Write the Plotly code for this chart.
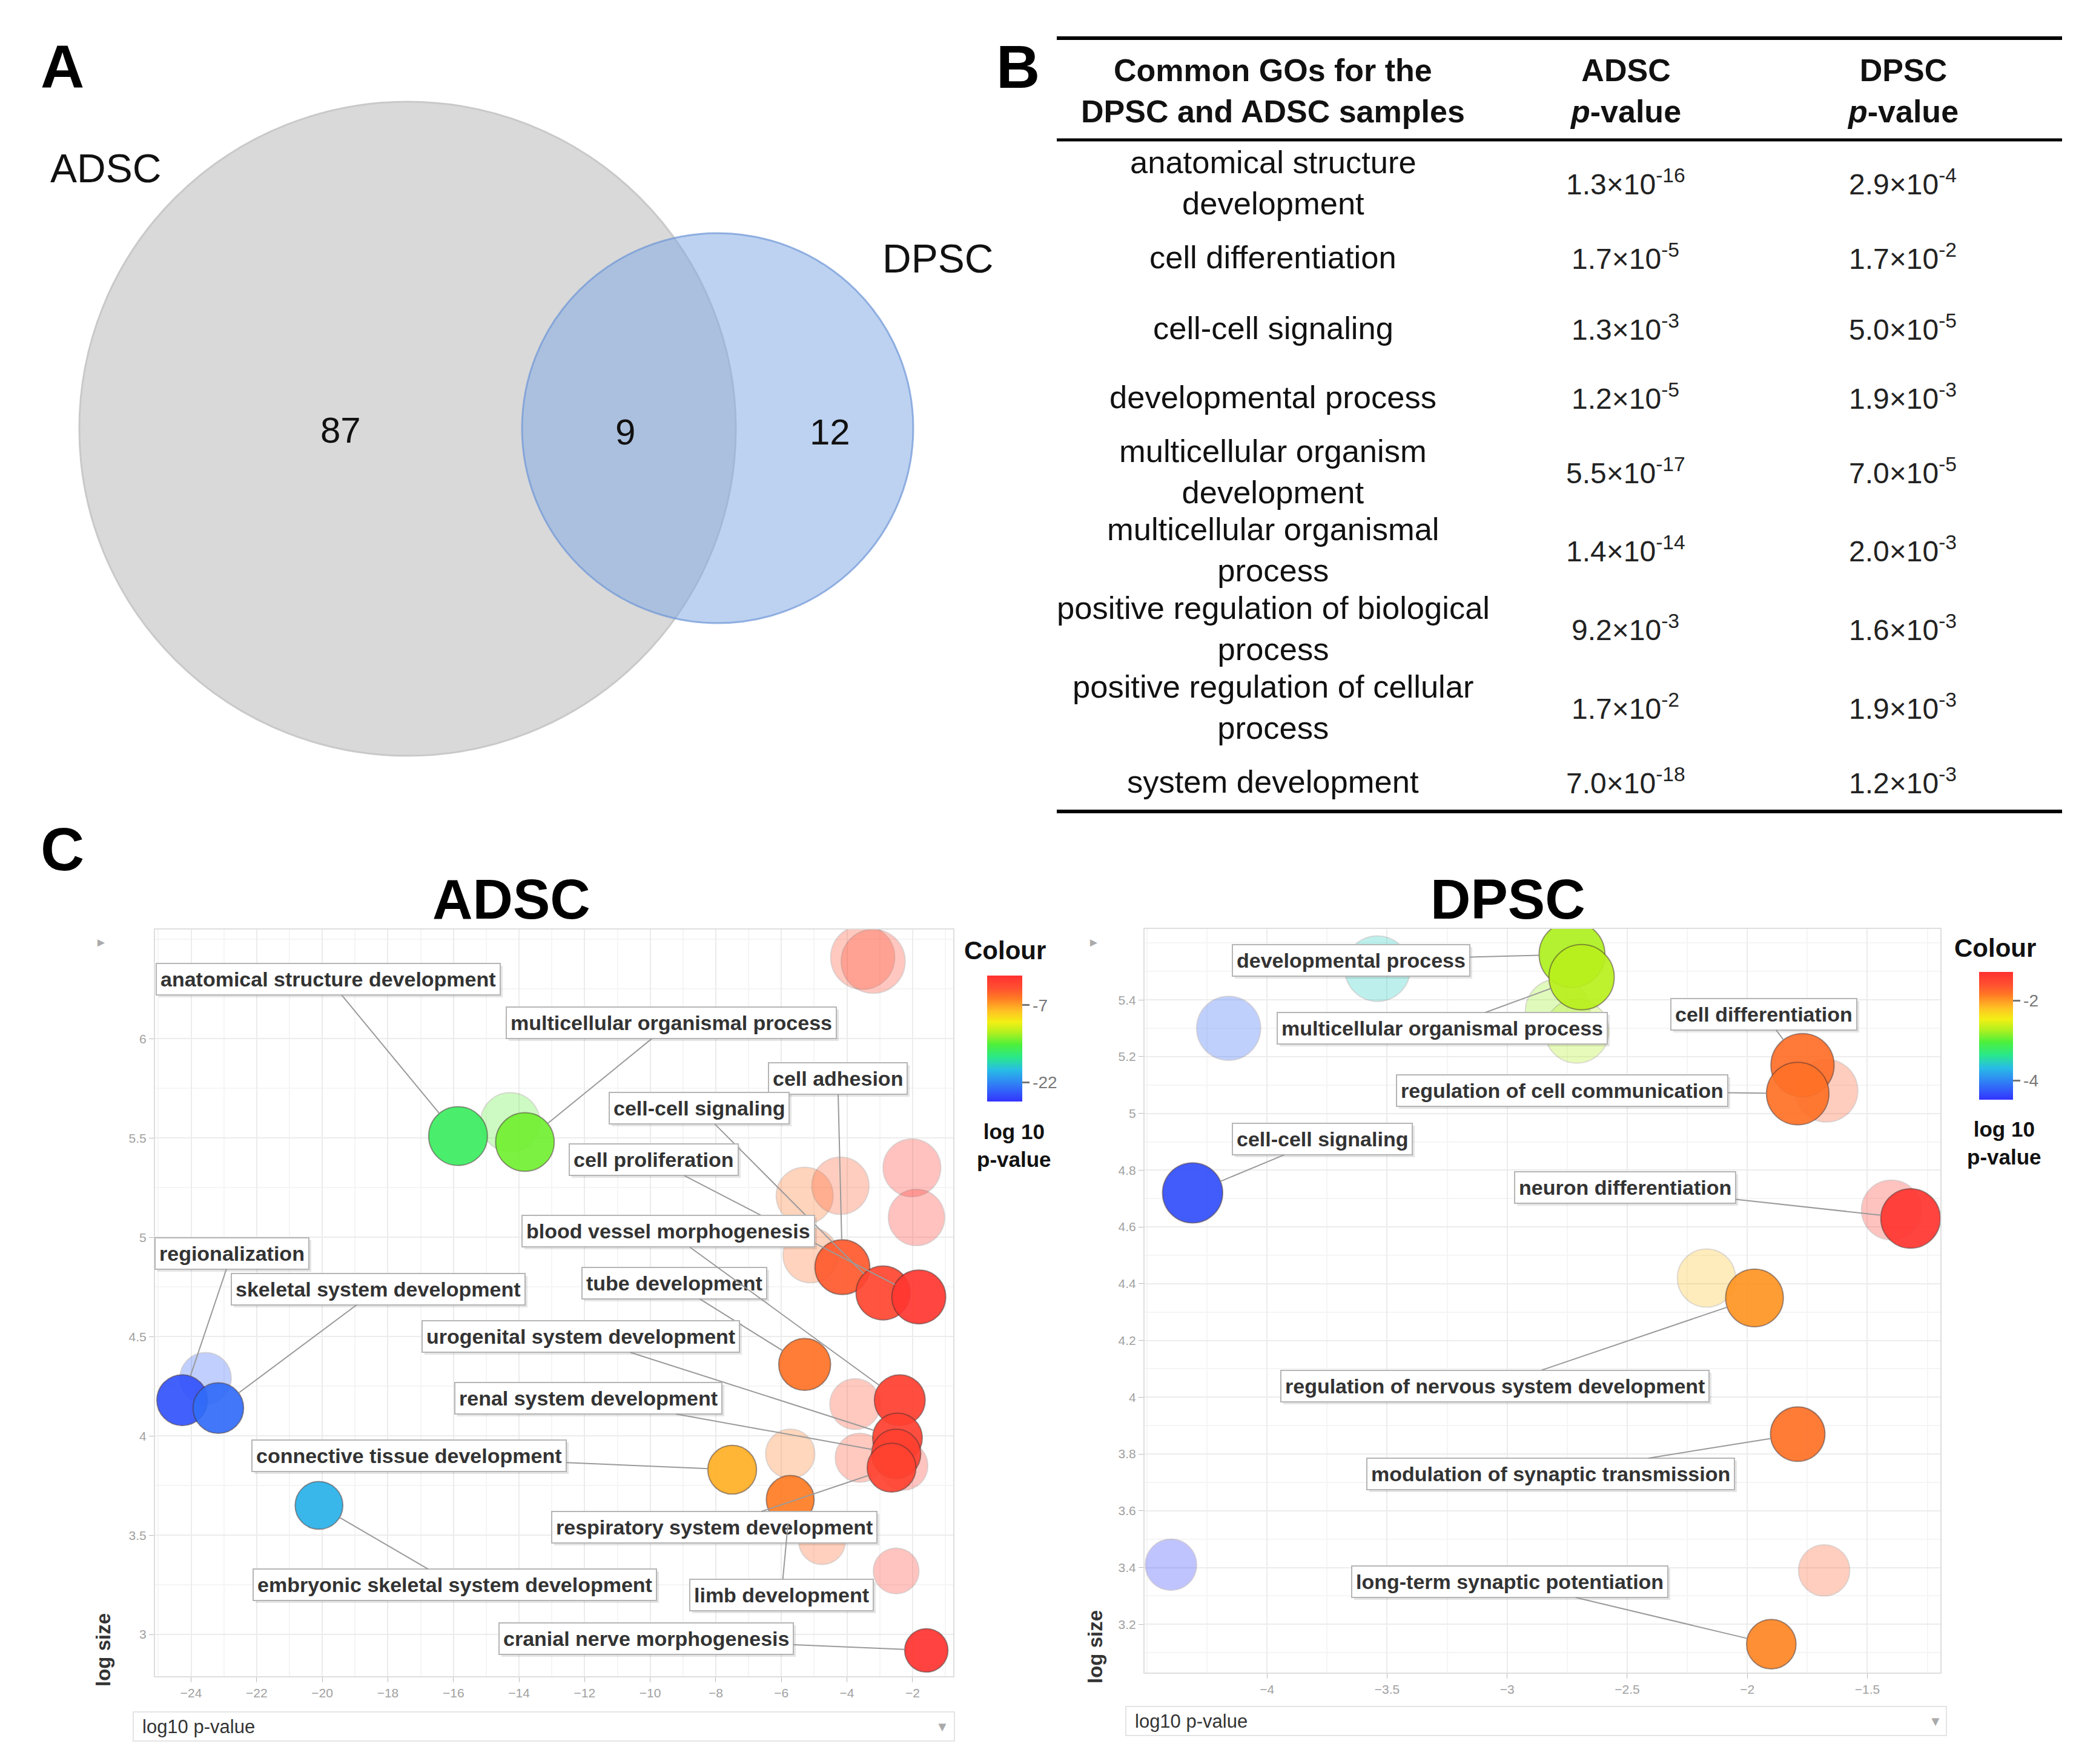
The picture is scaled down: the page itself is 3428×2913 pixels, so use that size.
import plotly.graph_objects as go

W, H = 3428, 2913
def px(x):
    return x / W
def py(y):
    return 1 - y / H

FONT = "Liberation Sans, Arial, sans-serif"

# ---------------- Panel A: Venn counts ----------------
venn_names = ["ADSC", "DPSC"]
venn_only_adsc = 87
venn_common = 9
venn_only_dpsc = 12

# ---------------- Panel B: table ----------------
go_terms = [
    "anatomical structure<br>development",
    "cell differentiation",
    "cell-cell signaling",
    "developmental process",
    "multicellular organism<br>development",
    "multicellular organismal<br>process",
    "positive regulation of biological<br>process",
    "positive regulation of cellular<br>process",
    "system development",
]
adsc_mant = ["1.3", "1.7", "1.3", "1.2", "5.5", "1.4", "9.2", "1.7", "7.0"]
adsc_exp = [-16, -5, -3, -5, -17, -14, -3, -2, -18]
dpsc_mant = ["2.9", "1.7", "5.0", "1.9", "7.0", "2.0", "1.6", "1.9", "1.2"]
dpsc_exp = [-4, -2, -5, -3, -5, -3, -3, -3, -3]

# ---------------- Panel C: REVIGO scatter data ----------------
adsc_x = [-3.52, -3.20, -14.27, -15.86, -13.82, -5.29, -4.20, -2.02, -1.88, -5.11,
          -4.14, -2.90, -1.81, -23.56, -24.27, -23.17, -5.29, -3.75, -2.39, -2.46,
          -2.50, -2.64, -3.61, -2.28, -5.73, -7.50, -5.73, -4.76, -20.10, -2.50, -1.58]
adsc_y = [6.41, 6.39, 5.58, 5.51, 5.48, 5.21, 5.26, 5.35, 5.10, 4.91,
          4.85, 4.72, 4.70, 4.29, 4.18, 4.14, 4.36, 4.16, 4.18, 3.99,
          3.91, 3.84, 3.89, 3.85, 3.91, 3.83, 3.68, 3.47, 3.65, 3.32, 2.92]
adsc_solid = [0, 0, 0, 1, 1, 0, 0, 0, 0, 0,
              1, 1, 1, 0, 1, 1, 1, 0, 1, 1,
              1, 1, 0, 0, 0, 1, 1, 0, 1, 0, 1]
adsc_label = ["", "", "", "anatomical structure development", "multicellular organismal process",
              "", "", "", "", "",
              "cell adhesion", "cell-cell signaling", "cell proliferation", "", "regionalization",
              "skeletal system development", "tube development", "", "blood vessel morphogenesis",
              "urogenital system development",
              "renal system development", "respiratory system development", "", "", "",
              "connective tissue development", "limb development", "", "embryonic skeletal system development",
              "", "cranial nerve morphogenesis"]

dpsc_x = [-3.54, -2.73, -2.69, -2.79, -2.71, -4.16, -1.77, -1.67, -1.79, -4.31,
          -1.40, -1.32, -2.17, -1.97, -1.79, -4.40, -1.68, -1.90]
dpsc_y = [5.51, 5.56, 5.48, 5.36, 5.29, 5.30, 5.17, 5.08, 5.07, 4.72,
          4.66, 4.63, 4.42, 4.35, 3.87, 3.41, 3.39, 3.13]
dpsc_solid = [0, 1, 1, 0, 0, 0, 1, 0, 1, 1,
              0, 1, 0, 1, 1, 0, 0, 1]
dpsc_label = ["", "developmental process", "multicellular organismal process", "", "", "",
              "cell differentiation", "", "regulation of cell communication", "cell-cell signaling",
              "", "neuron differentiation", "", "regulation of nervous system development",
              "modulation of synaptic transmission", "", "", "long-term synaptic potentiation"]

adsc_xticks = [-24, -22, -20, -18, -16, -14, -12, -10, -8, -6, -4, -2]
adsc_yticks = [3, 3.5, 4, 4.5, 5, 5.5, 6]
dpsc_xticks = [-4, -3.5, -3, -2.5, -2, -1.5]
dpsc_yticks = [3.2, 3.4, 3.6, 3.8, 4, 4.2, 4.4, 4.6, 4.8, 5, 5.2, 5.4]
adsc_cb_ticks = [-7, -22]
dpsc_cb_ticks = [-2, -4]

# label box placement (layout, in data units)
adsc_label_pos = {
    "anatomical structure development": (-19.81, 6.30),
    "multicellular organismal process": (-9.36, 6.08),
    "cell adhesion": (-4.28, 5.80),
    "cell-cell signaling": (-8.51, 5.65),
    "cell proliferation": (-9.89, 5.39),
    "blood vessel morphogenesis": (-9.45, 5.03),
    "regionalization": (-22.76, 4.92),
    "skeletal system development": (-18.30, 4.74),
    "tube development": (-9.27, 4.77),
    "urogenital system development": (-12.11, 4.50),
    "renal system development": (-11.88, 4.19),
    "connective tissue development": (-17.36, 3.90),
    "respiratory system development": (-8.04, 3.54),
    "embryonic skeletal system development": (-15.95, 3.25),
    "limb development": (-6.0, 3.20),
    "cranial nerve morphogenesis": (-10.12, 2.98),
}
dpsc_label_pos = {
    "developmental process": (-3.65, 5.54),
    "multicellular organismal process": (-3.27, 5.30),
    "cell differentiation": (-1.93, 5.35),
    "regulation of cell communication": (-2.77, 5.08),
    "cell-cell signaling": (-3.77, 4.91),
    "neuron differentiation": (-2.51, 4.74),
    "regulation of nervous system development": (-3.05, 4.04),
    "modulation of synaptic transmission": (-2.82, 3.73),
    "long-term synaptic potentiation": (-2.99, 3.35),
}

colorscale = [
    [0.00, "#3333ff"], [0.14, "#3080f5"], [0.25, "#28bce6"], [0.35, "#2ae88a"],
    [0.45, "#4cf03c"], [0.55, "#b4f01e"], [0.63, "#f2f014"], [0.72, "#ffc024"],
    [0.82, "#ff7a24"], [0.90, "#ff5030"], [1.00, "#ff3030"],
]

def adsc_size(v):
    return 43 + 9.8 * v
def dpsc_size(v):
    return 47 + 11.1 * v

fig = go.Figure()

def add_bubbles(xs, ys, solid, sizefn, xa, ya, cax):
    for flag, op in ((0, 0.3), (1, 0.92)):
        idx = [i for i in range(len(xs)) if solid[i] == flag]
        fig.add_trace(go.Scatter(
            x=[xs[i] for i in idx], y=[ys[i] for i in idx], mode="markers",
            xaxis=xa, yaxis=ya, hoverinfo="skip", showlegend=False,
            marker=dict(size=[sizefn(ys[i]) for i in idx], color=[xs[i] for i in idx],
                        coloraxis=cax, opacity=op,
                        line=dict(color="rgba(70,50,50,0.55)", width=2)),
        ))

add_bubbles(adsc_x, adsc_y, adsc_solid, adsc_size, "x", "y", "coloraxis")
add_bubbles(dpsc_x, dpsc_y, dpsc_solid, dpsc_size, "x2", "y2", "coloraxis2")

annotations = []
shapes = []

def label_annots(xs, ys, labels, pos, sizefn, xr, yr):
    # soft drop shadows first
    for i, lab in enumerate(labels):
        if not lab:
            continue
        ax, ay = pos[lab]
        annotations.append(dict(
            x=ax, y=ay, xref=xr, yref=yr, showarrow=False, xshift=4, yshift=-4,
            text="<b>%s</b>" % lab, bgcolor="rgba(0,0,0,0.10)",
            bordercolor="rgba(0,0,0,0)", borderwidth=2, borderpad=6,
            font=dict(family=FONT, size=34, color="rgba(0,0,0,0)"),
        ))
    for i, lab in enumerate(labels):
        if not lab:
            continue
        ax, ay = pos[lab]
        annotations.append(dict(
            x=xs[i], y=ys[i], xref=xr, yref=yr, ax=ax, ay=ay, axref=xr, ayref=yr,
            text="<b>%s</b>" % lab, showarrow=True, arrowhead=0, arrowwidth=2,
            arrowcolor="#9a9a9a", standoff=sizefn(ys[i]) / 2,
            bgcolor="white", bordercolor="#b5b5b5", borderwidth=2, borderpad=6,
            font=dict(family=FONT, size=34, color="#333333"),
        ))

label_annots(adsc_x, adsc_y, adsc_label, adsc_label_pos, adsc_size, "x", "y")
label_annots(dpsc_x, dpsc_y, dpsc_label, dpsc_label_pos, dpsc_size, "x2", "y2")

def txt(x, y, text, size, bold=False, color="#111111", xanchor="center", angle=0):
    annotations.append(dict(
        x=px(x), y=py(y), xref="paper", yref="paper", showarrow=False,
        text=("<b>%s</b>" % text) if bold else text, xanchor=xanchor, yanchor="middle",
        textangle=angle, font=dict(family=FONT, size=size, color=color),
    ))

# panel letters
txt(103, 110, "A", 100, True, "#000")
txt(1681, 110, "B", 100, True, "#000")
txt(103, 1402, "C", 100, True, "#000")

# ---- Venn ----
shapes.append(dict(type="circle", xref="paper", yref="paper",
                   x0=px(673 - 542), x1=px(673 + 542), y0=py(708 + 540), y1=py(708 - 540),
                   fillcolor="#d9d9d9", line=dict(color="#c9c9c9", width=3), layer="below"))
shapes.append(dict(type="circle", xref="paper", yref="paper",
                   x0=px(1185 - 323), x1=px(1185 + 323), y0=py(707 + 322), y1=py(707 - 322),
                   fillcolor="rgba(128,168,226,0.52)", line=dict(color="rgba(110,150,215,0.7)", width=3),
                   layer="below"))
txt(174, 278, venn_names[0], 66)
txt(1548, 427, venn_names[1], 66)
txt(562, 710, str(venn_only_adsc), 60)
txt(1032, 713, str(venn_common), 60)
txt(1370, 713, str(venn_only_dpsc), 60)

# ---- Table ----
tx0, tx1 = 1745, 3405
for yy, wdt in ((63, 6), (231, 5), (1340, 6)):
    shapes.append(dict(type="line", xref="paper", yref="paper", x0=px(tx0), x1=px(tx1),
                       y0=py(yy), y1=py(yy), line=dict(color="#000", width=wdt)))
col_go, col_a, col_d = 2102, 2684, 3142
txt(col_go, 150, "Common GOs for the<br>DPSC and ADSC samples", 52, True, "#111")
txt(col_a, 150, "ADSC<br><i>p</i>-value", 52, True, "#111")
txt(col_d, 150, "DPSC<br><i>p</i>-value", 52, True, "#111")
row_y = [301, 424, 541, 655, 778, 907, 1037, 1167, 1290]
for i, term in enumerate(go_terms):
    txt(col_go, row_y[i], term, 52.5, False, "#111")
    txt(col_a, row_y[i], "%s×10<sup>%d</sup>" % (adsc_mant[i], adsc_exp[i]), 48, False, "#222")
    txt(col_d, row_y[i], "%s×10<sup>%d</sup>" % (dpsc_mant[i], dpsc_exp[i]), 48, False, "#222")

# ---- Panel C decorations ----
txt(844, 1485, "ADSC", 92, True, "#000")
txt(2490, 1485, "DPSC", 92, True, "#000")

for (bx0, bx1, by0, by1, tx, arx) in ((220, 1576, 2827, 2875, 233, 1556),
                                      (1859, 3214, 2818, 2866, 1872, 3196)):
    shapes.append(dict(type="rect", xref="paper", yref="paper", x0=px(bx0), x1=px(bx1),
                       y0=py(by1), y1=py(by0), line=dict(color="#e4e4e4", width=2),
                       fillcolor="white"))
    txt(tx, (by0 + by1) / 2, "log10 p-value", 31, False, "#333", xanchor="left")
    txt(arx, (by0 + by1) / 2, "▼", 22, False, "#aaaaaa")

txt(170, 2725, "log size", 33, True, "#333", angle=-90)
txt(1808, 2720, "log size", 33, True, "#333", angle=-90)
txt(167, 1556, "►", 20, False, "#aaaaaa")
txt(1806, 1556, "►", 20, False, "#aaaaaa")

# colorbar titles
txt(1659, 1569, "Colour", 42, True, "#111")
txt(1674, 1891, "log 10<br>p-value", 35, True, "#111")
txt(3294, 1565, "Colour", 42, True, "#111")
txt(3309, 1887, "log 10<br>p-value", 35, True, "#111")

axis_common = dict(showgrid=True, gridcolor="#ececec", gridwidth=2, zeroline=False,
                   showline=True, mirror=True, linecolor="#dedede", linewidth=2,
                   ticks="outside", ticklen=8, tickcolor="#bbbbbb",
                   tickfont=dict(family=FONT, size=21, color="#a0a0a0"))

fig.update_layout(
    width=W, height=H, margin=dict(l=0, r=0, t=0, b=0),
    paper_bgcolor="white", plot_bgcolor="white", showlegend=False,
    xaxis=dict(domain=[px(256), px(1574)], range=[-25.1, -0.76], anchor="y",
               tickvals=adsc_xticks,
               minor=dict(dtick=1, showgrid=True, gridcolor="#f5f5f5"), **axis_common),
    yaxis=dict(domain=[py(2768), py(1535)], range=[2.79, 6.55], anchor="x",
               tickvals=adsc_yticks,
               minor=dict(dtick=0.25, showgrid=True, gridcolor="#f5f5f5"), **axis_common),
    xaxis2=dict(domain=[px(1890), px(3204)], range=[-4.51, -1.196], anchor="y2",
                tickvals=dpsc_xticks,
                minor=dict(dtick=0.25, showgrid=True, gridcolor="#f5f5f5"), **axis_common),
    yaxis2=dict(domain=[py(2762), py(1534)], range=[3.03, 5.65], anchor="x2",
                tickvals=dpsc_yticks,
                minor=dict(dtick=0.1, showgrid=True, gridcolor="#f5f5f5"), **axis_common),
    coloraxis=dict(colorscale=colorscale, cmin=-25.7, cmax=-1.24,
                   colorbar=dict(x=px(1630), xanchor="left", y=py(1715), yanchor="middle",
                                 lenmode="pixels", len=208, thicknessmode="pixels", thickness=58,
                                 xpad=0, ypad=0, outlinewidth=0, tickvals=adsc_cb_ticks,
                                 ticktext=[str(v) for v in adsc_cb_ticks], ticks="outside",
                                 ticklen=12, tickcolor="#777", tickwidth=3,
                                 tickfont=dict(family=FONT, size=28, color="#777"))),
    coloraxis2=dict(colorscale=colorscale, cmin=-4.47, cmax=-1.27,
                    colorbar=dict(x=px(3268), xanchor="left", y=py(1710), yanchor="middle",
                                  lenmode="pixels", len=211, thicknessmode="pixels", thickness=56,
                                  xpad=0, ypad=0, outlinewidth=0, tickvals=dpsc_cb_ticks,
                                  ticktext=[str(v) for v in dpsc_cb_ticks], ticks="outside",
                                  ticklen=12, tickcolor="#777", tickwidth=3,
                                  tickfont=dict(family=FONT, size=28, color="#777"))),
    annotations=annotations, shapes=shapes,
)

fig.write_html("out.html", config={"displayModeBar": False},
               post_script="document.body.style.margin='0px';")
